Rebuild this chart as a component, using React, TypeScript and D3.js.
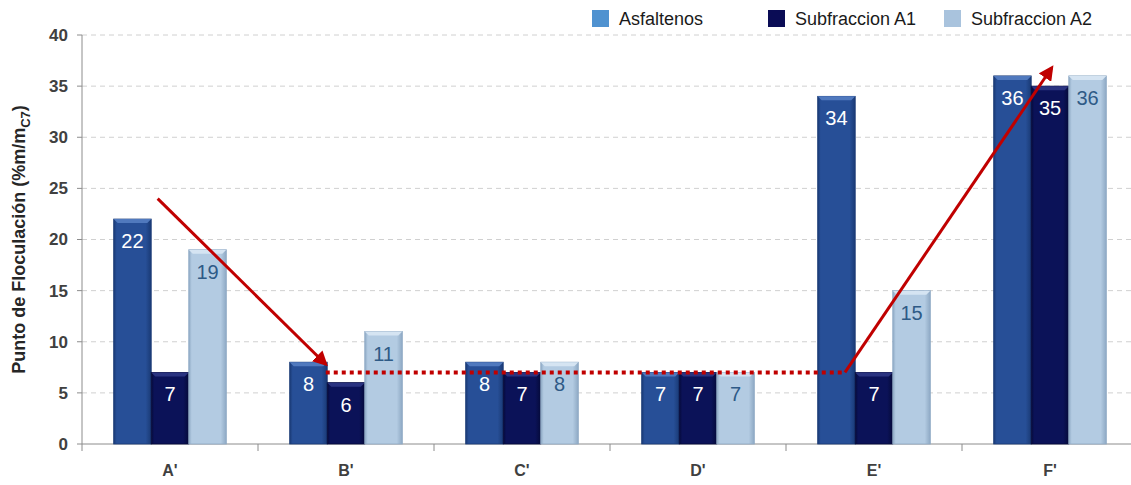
import React from "react";
import * as d3 from "d3";

const categories = ["A'", "B'", "C'", "D'", "E'", "F'"];
const seriesNames = ["Asfaltenos", "Subfraccion A1", "Subfraccion A2"];
const asfaltenos = [22, 8, 8, 7, 34, 36];
const subA1 = [7, 6, 7, 7, 7, 35];
const subA2 = [19, 11, 8, 7, 15, 36];
const yTicks = [0, 5, 10, 15, 20, 25, 30, 35, 40];
// annotation anchors: [category, fraction within band, value]
const arrowDown: [string, number, number][] = [["A'", 0.43, 24], ["B'", 0.385, 7.8]];
const dottedLine: [string, number, number][] = [["B'", 0.385, 7], ["E'", 0.335, 7]];
const arrowUp: [string, number, number][] = [["E'", 0.335, 7], ["F'", 0.51, 36.8]];

const W = 1131, H = 485;
const M = { left: 82, right: -7, top: 35, bottom: 41 };

const barFill = ["#274F97", "#0B1258", "#B3CBE2"];
const barEdge = ["#1A3A75", "#050A3A", "#8EA9C4"];
const barTop = ["#5079BE", "#2A3380", "#D5E4F2"];
const labelColor = ["#FFFFFF", "#FFFFFF", "#2E5A86"];
const legendColor = ["#4F92D0", "#0A0C55", "#A9C3DD"];

export default function App() {
  const x = d3.scaleBand<string>().domain(categories).range([M.left, W - M.right]).paddingInner(0).paddingOuter(0);
  const y = d3.scaleLinear().domain([0, 40]).range([H - M.bottom, M.top]);
  const groupW = x.bandwidth() * 0.64;
  const x1 = d3.scaleBand<number>().domain([0, 1, 2]).range([0, groupW]).padding(0);
  const series = [asfaltenos, subA1, subA2];
  const font = "'Liberation Sans', Arial, sans-serif";
  const px = (p: [string, number, number]) => (x(p[0]) as number) + p[1] * x.bandwidth();
  const legendX = [592, 768, 944];

  return (
    <svg width={W} height={H} style={{ position: "absolute", left: 0, top: 0, background: "#fff" }}>
      <defs>
        {barFill.map((c, i) => (
          <linearGradient key={i} id={`g${i}`} x1="0" x2="1" y1="0" y2="0">
            <stop offset="0" stopColor={barEdge[i]} />
            <stop offset="0.08" stopColor={c} />
            <stop offset="0.85" stopColor={c} />
            <stop offset="1" stopColor={barEdge[i]} />
          </linearGradient>
        ))}
        <marker id="arr" viewBox="0 0 10 10" refX="8" refY="5" markerWidth="5" markerHeight="5" orient="auto">
          <path d="M0,0 L10,5 L0,10 z" fill="#C00000" />
        </marker>
      </defs>
      {/* gridlines */}
      {yTicks.filter((t) => t > 0).map((t) => (
        <line key={t} x1={M.left} x2={W} y1={y(t)} y2={y(t)} stroke="#D0D0D0" strokeDasharray="5,4" strokeWidth={1} />
      ))}
      {/* axes */}
      <line x1={M.left} x2={M.left} y1={y(40)} y2={y(0)} stroke="#8C8C8C" />
      <line x1={M.left} x2={W} y1={y(0)} y2={y(0)} stroke="#8C8C8C" />
      {yTicks.map((t) => (
        <g key={t}>
          <line x1={M.left - 5} x2={M.left} y1={y(t)} y2={y(t)} stroke="#8C8C8C" />
          <text x={M.left - 14} y={y(t)} dy="0.35em" textAnchor="end" fontFamily={font} fontWeight="bold" fontSize={17} fill="#404040">{t}</text>
        </g>
      ))}
      {categories.map((c, i) => (
        <g key={c}>
          <line x1={(x(c) as number)} x2={(x(c) as number)} y1={y(0)} y2={y(0) + 7} stroke="#8C8C8C" />
          <text x={(x(c) as number) + x.bandwidth() / 2} y={y(0) + 32} textAnchor="middle" fontFamily={font} fontWeight="bold" fontSize={16} fill="#404040">{c}</text>
        </g>
      ))}
      {/* bars */}
      {categories.map((c, ci) => {
        const gx = (x(c) as number) + (x.bandwidth() - groupW) / 2;
        return (
          <g key={c}>
            {series.map((s, si) => {
              const bx = gx + (x1(si) as number);
              const bw = x1.bandwidth();
              const by = y(s[ci]);
              const bh = y(0) - by;
              return (
                <g key={si}>
                  <rect x={bx} y={by} width={bw} height={bh} fill={`url(#g${si})`} stroke={barEdge[si]} strokeWidth={0.8} />
                  <path d={`M${bx},${by} L${bx + bw},${by} L${bx + bw - 4},${by + 4} L${bx + 4},${by + 4} Z`} fill={barTop[si]} />
                  <text x={bx + bw / 2} y={by + 29} textAnchor="middle" fontFamily={font} fontSize={20} fill={labelColor[si]}>{s[ci]}</text>
                </g>
              );
            })}
          </g>
        );
      })}
      {/* annotations */}
      <line x1={px(dottedLine[0])} x2={px(dottedLine[1])} y1={y(dottedLine[0][2])} y2={y(dottedLine[1][2])} stroke="#C00000" strokeWidth={4} strokeDasharray="4,4" />
      <line x1={px(arrowDown[0])} y1={y(arrowDown[0][2])} x2={px(arrowDown[1])} y2={y(arrowDown[1][2])} stroke="#C00000" strokeWidth={3} markerEnd="url(#arr)" />
      <line x1={px(arrowUp[0])} y1={y(arrowUp[0][2])} x2={px(arrowUp[1])} y2={y(arrowUp[1][2])} stroke="#C00000" strokeWidth={3} markerEnd="url(#arr)" />
      {/* y title */}
      <text transform={`translate(25,${(y(0) + y(40)) / 2}) rotate(-90)`} textAnchor="middle" fontFamily={font} fontWeight="bold" fontSize={18} fill="#262626">
        Punto de Floculación (%m/m<tspan fontSize={13} dy="5">C7</tspan><tspan dy="-5">)</tspan>
      </text>
      {/* legend */}
      {seriesNames.map((n, i) => (
        <g key={n}>
          <rect x={legendX[i]} y={10} width={17} height={17} fill={legendColor[i]} />
          <text x={legendX[i] + 27} y={19} dy="0.35em" fontFamily={font} fontSize={18} fill="#1a1a1a">{n}</text>
        </g>
      ))}
    </svg>
  );
}
